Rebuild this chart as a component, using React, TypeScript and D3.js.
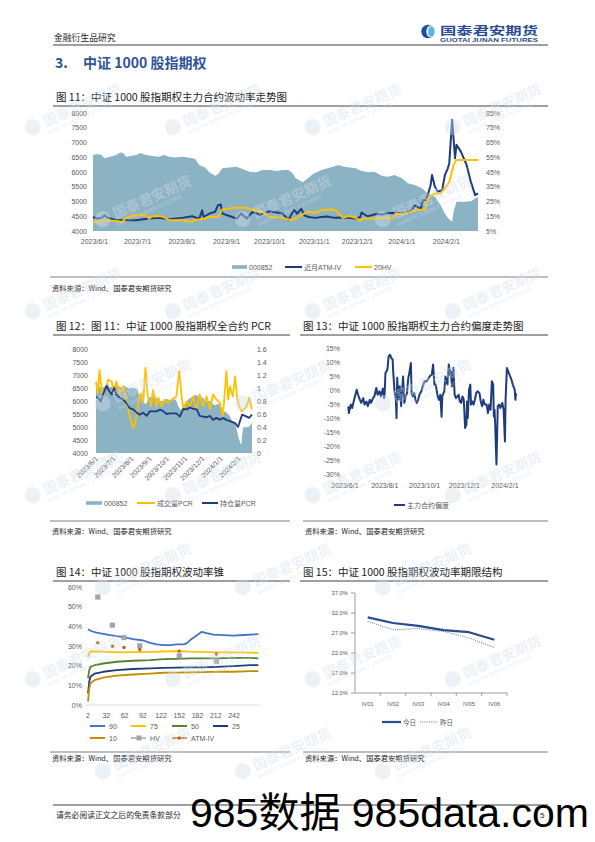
import React from "react";
import * as d3 from "d3";

// ================= DATA =================
// CSI 1000 index (000852)
const indexDates = ["2023-05-31","2023-06-03","2023-06-06","2023-06-08","2023-06-12","2023-06-16","2023-06-19","2023-06-21","2023-06-23","2023-06-28","2023-06-30","2023-07-03","2023-07-07","2023-07-11","2023-07-16","2023-07-19","2023-07-23","2023-07-27","2023-08-01","2023-08-05","2023-08-10","2023-08-13","2023-08-17","2023-08-20","2023-08-24","2023-08-26","2023-08-29","2023-09-03","2023-09-08","2023-09-12","2023-09-17","2023-09-22","2023-09-26","2023-10-01","2023-10-06","2023-10-10","2023-10-14","2023-10-17","2023-10-19","2023-10-24","2023-10-26","2023-10-31","2023-11-06","2023-11-14","2023-11-18","2023-11-22","2023-11-30","2023-12-04","2023-12-09","2023-12-13","2023-12-18","2023-12-22","2023-12-27","2024-01-01","2024-01-05","2024-01-10","2024-01-15","2024-01-19","2024-01-24","2024-01-28","2024-01-31","2024-02-02","2024-02-05","2024-02-06","2024-02-08","2024-02-14","2024-02-18","2024-02-23"];
const indexValues = [6580,6610,6580,6470,6520,6580,6660,6640,6520,6560,6580,6640,6580,6545,6520,6580,6520,6490,6520,6490,6445,6240,6150,5990,5875,5920,6125,6150,6180,6100,6010,5990,6070,6070,6030,6070,6070,5955,5800,5650,5730,5920,6070,6180,6240,6180,6125,6030,5990,6010,5875,5840,5900,5785,5615,5560,5445,5270,5160,4875,4590,4440,4310,4650,4990,4990,5010,5160];

// near-month ATM IV (%)
const ivDates = ["2023-05-31","2023-06-03","2023-06-06","2023-06-08","2023-06-10","2023-06-16","2023-06-26","2023-06-30","2023-07-09","2023-07-16","2023-07-23","2023-08-01","2023-08-08","2023-08-13","2023-08-15","2023-08-16","2023-08-20","2023-08-24","2023-08-26","2023-08-28","2023-08-29","2023-09-03","2023-09-08","2023-09-11","2023-09-15","2023-09-19","2023-09-24","2023-10-01","2023-10-10","2023-10-14","2023-10-18","2023-10-20","2023-10-23","2023-10-25","2023-10-28","2023-11-02","2023-11-06","2023-11-10","2023-11-15","2023-11-20","2023-11-25","2023-11-30","2023-12-03","2023-12-04","2023-12-08","2023-12-11","2023-12-14","2023-12-18","2023-12-22","2023-12-27","2024-01-03","2024-01-08","2024-01-10","2024-01-14","2024-01-16","2024-01-18","2024-01-21","2024-01-22","2024-01-24","2024-01-26","2024-01-29","2024-01-31","2024-02-02","2024-02-03","2024-02-05","2024-02-07","2024-02-08","2024-02-11","2024-02-15","2024-02-18","2024-02-21","2024-02-23"];
const ivValues = [14.5,13.4,13.9,15.7,14.2,12.3,12.3,12.3,13.4,13.9,13.0,13.9,15.0,13.4,19.0,14.5,16.8,18.0,22.5,23.0,16.8,15.2,13.4,16.8,13.4,18.0,16.0,18.4,16.8,12.5,19.5,16.8,20.0,15.7,14.5,13.9,14.5,14.8,13.9,14.2,13.9,13.4,14.5,17.5,15.0,15.7,16.5,16.2,17.0,17.3,16.8,19.0,22.5,19.8,26.0,26.0,36.0,43.0,35.0,31.6,32.7,43.0,47.5,51.0,80.5,54.3,63.4,59.0,50.0,38.4,29.3,30.5];

// 20-day HV (%)
const hvDates = ["2023-05-31","2023-06-05","2023-06-06","2023-06-16","2023-06-21","2023-06-22","2023-06-28","2023-07-07","2023-07-09","2023-07-11","2023-07-18","2023-07-23","2023-08-01","2023-08-08","2023-08-09","2023-08-17","2023-08-19","2023-08-26","2023-08-29","2023-09-07","2023-09-15","2023-09-19","2023-09-26","2023-10-01","2023-10-10","2023-10-16","2023-10-19","2023-10-27","2023-11-02","2023-11-06","2023-11-14","2023-11-16","2023-11-21","2023-11-25","2023-11-30","2023-12-03","2023-12-05","2023-12-13","2023-12-22","2023-12-26","2023-12-28","2024-01-02","2024-01-10","2024-01-17","2024-01-19","2024-01-24","2024-01-28","2024-01-31","2024-02-03","2024-02-06","2024-02-08","2024-02-14","2024-02-23"];
const hvValues = [11.1,10.8,12.3,11.8,11.1,13.4,15.7,15.7,13.4,15.0,15.0,12.3,12.3,11.1,12.3,13.4,14.5,14.5,19.5,20.7,20.7,19.2,18.0,14.5,13.9,12.3,13.4,18.0,17.3,19.0,19.5,19.0,14.0,15.2,14.0,11.8,13.4,13.4,13.9,13.4,16.8,16.4,19.0,19.5,27.0,30.5,30.5,33.9,38.4,49.8,53.2,53.2,53.2];

// volume PCR
const volPcrDates = ["2023-05-31","2023-06-03","2023-06-06","2023-06-11","2023-06-18","2023-06-21","2023-06-27","2023-07-01","2023-07-05","2023-07-11","2023-07-17","2023-07-22","2023-07-28","2023-08-03","2023-08-06","2023-08-10","2023-08-13","2023-08-17","2023-08-20","2023-08-24","2023-08-28","2023-09-03","2023-09-06","2023-09-12","2023-09-15","2023-09-21","2023-09-26","2023-10-02","2023-10-08","2023-10-16","2023-10-21","2023-10-25","2023-10-28","2023-11-03","2023-11-08","2023-11-14","2023-11-20","2023-11-25","2023-12-01","2023-12-07","2023-12-13","2023-12-18","2023-12-24","2023-12-30","2024-01-04","2024-01-10","2024-01-13","2024-01-16","2024-01-21","2024-01-25","2024-01-28","2024-02-01","2024-02-05","2024-02-09","2024-02-14","2024-02-18","2024-02-23"];
const volPcrValues = [1.10,0.92,1.28,0.87,1.03,1.13,1.10,0.92,1.10,0.92,1.03,0.82,0.56,0.38,0.44,0.67,0.85,0.92,0.77,1.31,0.87,0.72,0.97,0.72,0.85,0.72,0.82,0.77,0.82,0.87,1.26,0.87,0.67,0.79,0.72,0.87,0.67,0.90,0.72,0.87,0.67,0.90,0.82,0.77,0.56,1.26,0.82,1.03,0.87,1.18,0.87,0.72,0.64,0.67,0.72,0.85,0.67];

// open-interest PCR
const oiPcrDates = ["2023-05-31","2023-06-04","2023-06-08","2023-06-12","2023-06-18","2023-06-23","2023-06-27","2023-07-01","2023-07-05","2023-07-11","2023-07-17","2023-07-22","2023-07-28","2023-08-03","2023-08-09","2023-08-14","2023-08-20","2023-08-26","2023-08-31","2023-09-12","2023-09-18","2023-09-24","2023-09-29","2023-10-05","2023-10-16","2023-10-22","2023-10-28","2023-11-03","2023-11-08","2023-11-14","2023-11-20","2023-11-25","2023-12-01","2023-12-07","2023-12-13","2023-12-18","2023-12-24","2023-12-30","2024-01-04","2024-01-10","2024-01-16","2024-01-25","2024-01-30","2024-02-06","2024-02-14","2024-02-18","2024-02-23"];
const oiPcrValues = [0.86,0.85,0.79,0.90,1.03,0.95,0.90,1.00,0.90,0.85,0.82,0.77,0.69,0.67,0.62,0.59,0.62,0.57,0.64,0.64,0.67,0.64,0.60,0.61,0.61,0.56,0.68,0.67,0.70,0.68,0.67,0.57,0.56,0.55,0.57,0.51,0.54,0.51,0.54,0.51,0.49,0.46,0.40,0.59,0.56,0.54,0.59];

// main contract skew (%)
const skewDates = ["2023-06-06","2023-06-07","2023-06-10","2023-06-12","2023-06-15","2023-06-17","2023-06-19","2023-06-21","2023-06-24","2023-06-26","2023-06-29","2023-07-01","2023-07-04","2023-07-06","2023-07-09","2023-07-11","2023-07-14","2023-07-16","2023-07-19","2023-07-21","2023-07-24","2023-07-26","2023-07-29","2023-07-31","2023-08-01","2023-08-02","2023-08-05","2023-08-07","2023-08-09","2023-08-11","2023-08-13","2023-08-14","2023-08-16","2023-08-18","2023-08-19","2023-08-20","2023-08-22","2023-08-24","2023-08-26","2023-08-29","2023-08-31","2023-09-02","2023-09-04","2023-09-06","2023-09-08","2023-09-10","2023-09-11","2023-09-13","2023-09-15","2023-09-17","2023-09-19","2023-09-21","2023-09-24","2023-09-26","2023-09-29","2023-10-01","2023-10-04","2023-10-06","2023-10-09","2023-10-12","2023-10-14","2023-10-16","2023-10-18","2023-10-21","2023-10-23","2023-10-25","2023-10-27","2023-10-28","2023-10-31","2023-11-02","2023-11-05","2023-11-07","2023-11-09","2023-11-10","2023-11-12","2023-11-14","2023-11-16","2023-11-18","2023-11-20","2023-11-22","2023-11-24","2023-11-26","2023-11-28","2023-11-30","2023-12-02","2023-12-04","2023-12-05","2023-12-06","2023-12-08","2023-12-10","2023-12-11","2023-12-13","2023-12-15","2023-12-17","2023-12-19","2023-12-21","2023-12-24","2023-12-26","2023-12-28","2023-12-30","2024-01-01","2024-01-04","2024-01-06","2024-01-08","2024-01-10","2024-01-12","2024-01-14","2024-01-15","2024-01-16","2024-01-17","2024-01-19","2024-01-20","2024-01-21","2024-01-23","2024-01-25","2024-01-26","2024-01-28","2024-01-30","2024-02-01","2024-02-02","2024-02-04","2024-02-06","2024-02-08","2024-02-11","2024-02-13","2024-02-16","2024-02-17","2024-02-18"];
const skewValues = [-5.7,-8.1,-5.1,-6.3,-3.4,-1.6,0.2,-1.6,-3.4,-4.5,-2.8,-5.1,-4.0,-5.7,-3.4,-4.5,-2.8,-2.2,0.8,-1.6,-0.4,-2.2,0.6,-2.8,-0.2,6.1,7.3,12.1,12.6,11.5,10.9,6.1,-0.4,-3.4,-9.9,4.4,-3.3,1.4,-5.7,4.9,-4.5,-2.2,-1.0,4.4,6.7,9.7,-1.0,-2.2,-1.0,-3.4,-4.5,-3.4,-1.0,-0.4,2.0,3.2,3.2,3.8,5.0,5.5,9.1,2.0,2.0,-2.2,-3.4,-1.6,-9.4,-2.2,-0.4,4.9,2.0,9.1,5.5,6.7,1.4,7.9,-1.6,-2.8,-2.2,-1.6,-4.0,-4.5,-2.2,-3.4,-13.4,-12.2,-4.0,-9.9,0.2,2.0,-5.1,-4.0,-5.1,-3.4,-1.0,-0.4,-1.0,-4.0,-5.7,-3.4,-5.1,-5.1,-8.1,-5.1,-6.9,3.2,2.0,-9.3,-6.9,-11.6,-26.4,-16.4,-5.7,-5.1,-6.3,-5.7,-4.5,-6.9,-18.2,-3.4,7.9,6.7,5.5,3.8,2.0,0.2,-3.4,-1.0];

// volatility cone (days to expiry vs %)
const p90Days = [2,8,16,27,38,49,60,76,93,104,115,126,137,148,159,164,170,181,189,197,208,225,241,258,269,282];
const p90Values = [38.5,37.5,36.8,36.2,35.5,35.0,34.5,33.5,32.8,31.6,30.8,30.4,30.4,30.8,30.8,31.3,33.0,35.5,37.2,36.5,35.8,35.5,35.3,35.6,35.8,36.0];
const coneDays = [2,4,6,13,27,49,76,104,126,148,170,189,214,241,269,282];
const p75Values = [24.5,26.5,27.2,27.2,27.1,26.8,26.9,27.0,27.2,27.4,27.1,27.0,26.8,26.8,26.6,26.5];
const p50Values = [13.5,17.7,19.4,20.3,21.1,22.0,22.5,22.8,23.3,23.5,23.7,23.7,23.7,24.0,24.0,23.7];
const p25Values = [5.9,11.8,14.4,16.0,16.9,17.7,18.3,18.6,18.9,19.0,19.1,19.1,19.4,19.8,20.3,20.3];
const p10Values = [1.7,8.4,11.0,12.7,13.9,14.9,15.5,16.0,16.4,16.5,16.6,16.7,16.9,16.9,17.2,17.2];
const expiryDays = [18,42,61,87,152,213];
const hvConePoints = [54.9,40.6,34.3,30.1,25.0,22.3];
const atmConePoints = [31.6,29.9,29.2,28.2,27.4,25.9];
const coneTicks = [2,32,62,92,122,152,182,212,242];

// term structure
const termCats = ["IV01","IV02","IV03","IV04","IV05","IV06"];
const termToday = [30.9,29.5,28.8,27.7,27.2,25.3];
const termYesterday = [29.9,27.8,28.1,27.4,25.75,23.4];
const termTicks = [12,17,22,27,32,37];

// axis tick lists
const monthTicks = ["2023-06-01","2023-07-01","2023-08-01","2023-09-01","2023-10-01","2023-11-01","2023-12-01","2024-01-01","2024-02-01"];
const skewTicks = ["2023-06-01","2023-08-01","2023-10-01","2023-12-01","2024-02-01"];
const dateStart = "2023-05-31";
const dateEnd = "2024-02-23";

// ================= HELPERS =================
type Pt = { date: Date; value: number };
const parse = d3.timeParse("%Y-%m-%d");
const pd = (s: string) => parse(s) as Date;
const toPts = (dates: string[], values: number[]): Pt[] =>
  dates.map((d, i) => ({ date: pd(d), value: values[i] }));
const fmtDate = d3.timeFormat("%Y/%-m/%-d");

const SANS = "'Liberation Sans', Arial, 'Noto Sans CJK SC', sans-serif";
const CJK = "'Noto Sans CJK SC', 'Noto Sans', sans-serif";
const NAVY = "#1F3C7A";
const GOLD = "#FFC000";
const AREA = "#8CB3C4";
const TXT = "#595959";
const RULE = "#404040";

const idxPts = toPts(indexDates, indexValues);

function Title({ x, y, text, x2 }: { x: number; y: number; text: string; x2: number }) {
  return (
    <g>
      <text x={x + 3} y={y} fontFamily={CJK} fontSize={10.5} fill="#1a1a1a">{text}</text>
      <line x1={x} x2={x2} y1={y + 5} y2={y + 5} stroke={RULE} strokeWidth={1} />
    </g>
  );
}

function Source({ x, y, x2, lineY }: { x: number; y: number; x2: number; lineY: number }) {
  return (
    <g>
      <line x1={x - 2} x2={x2} y1={lineY} y2={lineY} stroke="#7F7F7F" strokeWidth={1} />
      <text x={x} y={y} fontFamily={CJK} fontSize={7.3} fill="#1a1a1a">资料来源：Wind、国泰君安期货研究</text>
    </g>
  );
}

// ================= FIG 11 =================
function Fig11() {
  const x = d3.scaleTime().domain([pd(dateStart), pd(dateEnd)]).range([93, 478]);
  const yL = d3.scaleLinear().domain([4000, 8000]).range([231, 113]);
  const yR = d3.scaleLinear().domain([5, 85]).range([231, 113]);
  const area = d3.area<Pt>().x(d => x(d.date)).y0(yL(4000)).y1(d => yL(d.value));
  const lineR = d3.line<Pt>().x(d => x(d.date)).y(d => yR(d.value));
  return (
    <g>
      <Title x={53} y={101} x2={548} text="图 11：中证 1000 股指期权主力合约波动率走势图" />
      <path d={area(idxPts) || ""} fill={AREA} />
      <path d={lineR(toPts(ivDates, ivValues)) || ""} fill="none" stroke={NAVY} strokeWidth={2} strokeLinejoin="round" />
      <path d={lineR(toPts(hvDates, hvValues)) || ""} fill="none" stroke={GOLD} strokeWidth={2} strokeLinejoin="round" />
      {d3.range(4000, 8001, 500).map(v => (
        <text key={v} x={87} y={yL(v) + 2.5} textAnchor="end" fontFamily={SANS} fontSize={7} fill={TXT}>{v}</text>
      ))}
      {d3.range(5, 86, 10).map(v => (
        <text key={v} x={486} y={yR(v) + 2.5} fontFamily={SANS} fontSize={7} fill={TXT}>{v}%</text>
      ))}
      {monthTicks.map(t => (
        <text key={t} x={x(pd(t))} y={244} textAnchor="middle" fontFamily={SANS} fontSize={7} fill={TXT}>{fmtDate(pd(t))}</text>
      ))}
      {/* legend */}
      <rect x={232} y={265.2} width={15} height={3.6} fill={AREA} />
      <text x={249} y={269.5} fontFamily={SANS} fontSize={7} fill={TXT}>000852</text>
      <line x1={285} x2={302} y1={267} y2={267} stroke={NAVY} strokeWidth={2} />
      <text x={304} y={269.5} fontFamily={SANS} fontSize={7} fill={TXT}>近月ATM-IV</text>
      <line x1={355} x2={372} y1={267} y2={267} stroke={GOLD} strokeWidth={2} />
      <text x={374} y={269.5} fontFamily={SANS} fontSize={7} fill={TXT}>20HV</text>
      <Source x={52} y={291} x2={548} lineY={277} />
    </g>
  );
}

// ================= FIG 12 =================
function Fig12() {
  const x = d3.scaleTime().domain([pd(dateStart), pd(dateEnd)]).range([96, 252]);
  const yL = d3.scaleLinear().domain([4000, 8000]).range([453, 349]);
  const yR = d3.scaleLinear().domain([0, 1.6]).range([453, 349]);
  const area = d3.area<Pt>().x(d => x(d.date)).y0(yL(4000)).y1(d => yL(d.value));
  const lineR = d3.line<Pt>().x(d => x(d.date)).y(d => yR(d.value));
  return (
    <g>
      <Title x={53} y={330} x2={290} text="图 12：图 11：中证 1000 股指期权全合约 PCR" />
      <path d={area(idxPts) || ""} fill={AREA} />
      <path d={lineR(toPts(volPcrDates, volPcrValues)) || ""} fill="none" stroke={GOLD} strokeWidth={1.8} strokeLinejoin="round" />
      <path d={lineR(toPts(oiPcrDates, oiPcrValues)) || ""} fill="none" stroke={NAVY} strokeWidth={1.8} strokeLinejoin="round" />
      {d3.range(4000, 8001, 500).map(v => (
        <text key={v} x={88} y={yL(v) + 2.5} textAnchor="end" fontFamily={SANS} fontSize={7} fill={TXT}>{v}</text>
      ))}
      {d3.range(0, 1.61, 0.2).map(v => (
        <text key={v} x={257} y={yR(v) + 2.5} fontFamily={SANS} fontSize={7} fill={TXT}>{v === 0 ? "0" : d3.format(".1f")(v).replace(/\.0$/, "")}</text>
      ))}
      {monthTicks.map(t => (
        <text key={t} transform={`translate(${x(pd(t)) + 2},${459}) rotate(-45)`} textAnchor="end" fontFamily={SANS} fontSize={7} fill={TXT}>{fmtDate(pd(t))}</text>
      ))}
      <rect x={86} y={501.2} width={16} height={3.6} fill={AREA} />
      <text x={104} y={505.5} fontFamily={SANS} fontSize={7} fill={TXT}>000852</text>
      <line x1={137} x2={155} y1={503} y2={503} stroke={GOLD} strokeWidth={2} />
      <text x={157} y={505.5} fontFamily={SANS} fontSize={7} fill={TXT}>成交量PCR</text>
      <line x1={202} x2={218} y1={503} y2={503} stroke={NAVY} strokeWidth={2} />
      <text x={220} y={505.5} fontFamily={SANS} fontSize={7} fill={TXT}>持仓量PCR</text>
      <Source x={52} y={534} x2={290} lineY={521} />
    </g>
  );
}

// ================= FIG 13 =================
function Fig13() {
  const x = d3.scaleTime().domain([pd(dateStart), pd(dateEnd)]).range([344.3, 519.3]);
  const y = d3.scaleLinear().domain([-30, 15]).range([474.7, 348]);
  const line = d3.line<Pt>().x(d => x(d.date)).y(d => y(d.value));
  return (
    <g>
      <Title x={300} y={330} x2={548} text="图 13：中证 1000 股指期权主力合约偏度走势图" />
      <path d={line(toPts(skewDates, skewValues)) || ""} fill="none" stroke={NAVY} strokeWidth={2} strokeLinejoin="round" />
      {d3.range(-30, 16, 5).map(v => (
        <text key={v} x={340} y={y(v) + 2.5} textAnchor="end" fontFamily={SANS} fontSize={7} fill={TXT}>{v}%</text>
      ))}
      {skewTicks.map(t => (
        <text key={t} x={x(pd(t))} y={488} textAnchor="middle" fontFamily={SANS} fontSize={7} fill={TXT}>{fmtDate(pd(t))}</text>
      ))}
      <line x1={394} x2={405} y1={505} y2={505} stroke={NAVY} strokeWidth={2} />
      <text x={407} y={507.5} fontFamily={SANS} fontSize={7} fill={TXT}>主力合约偏度</text>
      <Source x={305} y={534} x2={548} lineY={521} />
    </g>
  );
}

// ================= FIG 14 =================
function Fig14() {
  const x = d3.scaleLinear().domain([-1, 286]).range([86.2, 260.8]);
  const y = d3.scaleLinear().domain([0, 60]).range([705, 587]);
  const mk = (days: number[], vals: number[]) =>
    d3.line<number>().x((_, i) => x(days[i])).y(v => y(v))(vals) || "";
  const series = [
    { name: "90", days: p90Days, vals: p90Values, color: "#4472C4" },
    { name: "75", days: coneDays, vals: p75Values, color: GOLD },
    { name: "50", days: coneDays, vals: p50Values, color: "#548235" },
    { name: "25", days: coneDays, vals: p25Values, color: NAVY },
    { name: "10", days: coneDays, vals: p10Values, color: "#BF8F00" },
  ];
  const legPos = [
    { lx: 90, ty: 726 }, { lx: 131, ty: 726 }, { lx: 172, ty: 726 }, { lx: 213, ty: 726 }, { lx: 90, ty: 738 },
  ];
  return (
    <g>
      <Title x={53} y={576} x2={290} text="图 14：中证 1000 股指期权波动率锥" />
      <line x1={86} x2={261} y1={705} y2={705} stroke="#D9D9D9" strokeWidth={0.8} />
      {series.map(s => (
        <path key={s.name} d={mk(s.days, s.vals)} fill="none" stroke={s.color} strokeWidth={1.8} strokeLinejoin="round" />
      ))}
      {expiryDays.map((d, i) => (
        <rect key={"hv" + i} x={x(d) - 2.6} y={y(hvConePoints[i]) - 2.6} width={5.2} height={5.2} fill="#A5A5A5" />
      ))}
      {expiryDays.map((d, i) => (
        <circle key={"atm" + i} cx={x(d)} cy={y(atmConePoints[i])} r={1.7} fill="#C55A11" />
      ))}
      {d3.range(0, 61, 10).map(v => (
        <text key={v} x={82} y={y(v) + 2.5} textAnchor="end" fontFamily={SANS} fontSize={7} fill={TXT}>{v}%</text>
      ))}
      {coneTicks.map(t => (
        <text key={t} x={x(t)} y={717.5} textAnchor="middle" fontFamily={SANS} fontSize={7} fill={TXT}>{t}</text>
      ))}
      {series.map((s, i) => (
        <g key={"lg" + s.name}>
          <line x1={legPos[i].lx} x2={legPos[i].lx + 15} y1={legPos[i].ty} y2={legPos[i].ty} stroke={s.color} strokeWidth={2} />
          <text x={legPos[i].lx + 19} y={legPos[i].ty + 2.5} fontFamily={SANS} fontSize={7} fill={TXT}>{s.name}</text>
        </g>
      ))}
      <line x1={131} x2={146} y1={738} y2={738} stroke="#A5A5A5" strokeWidth={1.5} />
      <rect x={136.5} y={735.5} width={5} height={5} fill="#A5A5A5" />
      <text x={150} y={740.5} fontFamily={SANS} fontSize={7} fill={TXT}>HV</text>
      <line x1={172} x2={187} y1={738} y2={738} stroke="#C55A11" strokeWidth={1.5} />
      <circle cx={179.5} cy={738} r={1.8} fill="#C55A11" />
      <text x={191} y={740.5} fontFamily={SANS} fontSize={7} fill={TXT}>ATM-IV</text>
      <Source x={52} y={761} x2={290} lineY={752} />
    </g>
  );
}

// ================= FIG 15 =================
function Fig15() {
  const x = d3.scaleBand().domain(termCats).range([355, 507]);
  const y = d3.scaleLinear().domain([12, 37]).range([693, 593]);
  const line = d3.line<number>().x((_, i) => (x(termCats[i]) || 0) + x.bandwidth() / 2).y(v => y(v));
  return (
    <g>
      <Title x={300} y={576} x2={548} text="图 15：中证 1000 股指期权波动率期限结构" />
      <line x1={355} x2={355} y1={593} y2={693} stroke="#868686" strokeWidth={0.8} />
      <line x1={355} x2={507} y1={693} y2={693} stroke="#868686" strokeWidth={0.8} />
      {termTicks.map(t => (
        <g key={t}>
          <line x1={351} x2={355} y1={y(t)} y2={y(t)} stroke="#868686" strokeWidth={0.8} />
          <text x={348} y={y(t) + 2} textAnchor="end" fontFamily={SANS} fontSize={5.8} fill={TXT}>{t.toFixed(1)}%</text>
        </g>
      ))}
      {termCats.map((c) => (
        <g key={c}>
          <line x1={(x(c) || 0) + x.bandwidth()} x2={(x(c) || 0) + x.bandwidth()} y1={693} y2={696} stroke="#868686" strokeWidth={0.8} />
          <text x={(x(c) || 0) + x.bandwidth() / 2} y={705.5} textAnchor="middle" fontFamily={SANS} fontSize={5.8} fill={TXT}>{c}</text>
        </g>
      ))}
      <path d={line(termYesterday) || ""} fill="none" stroke="#2F5597" strokeWidth={0.8} strokeDasharray="1 1.2" />
      <path d={line(termToday) || ""} fill="none" stroke="#2B4C8C" strokeWidth={2.2} strokeLinejoin="round" />
      <line x1={382} x2={401} y1={722} y2={722} stroke="#2B4C8C" strokeWidth={2.2} />
      <text x={403} y={724.5} fontFamily={CJK} fontSize={6.5} fill={TXT}>今日</text>
      <line x1={420} x2={438} y1={722} y2={722} stroke="#2F5597" strokeWidth={0.8} strokeDasharray="1 1.2" />
      <text x={440} y={724.5} fontFamily={CJK} fontSize={6.5} fill={TXT}>昨日</text>
      <Source x={305} y={761} x2={548} lineY={752} />
    </g>
  );
}

// ================= PAGE DECOR =================
function Header() {
  return (
    <g>
      <text x={54} y={41} fontFamily={CJK} fontSize={8.8} fill="#262626">金融衍生品研究</text>
      <circle cx={428} cy={31.5} r={6.8} fill="#1F4E9A" />
      <ellipse cx={430.6} cy={31.5} rx={4.2} ry={6.1} fill="#fff" />
      <ellipse cx={431.2} cy={31.5} rx={3.2} ry={5.3} fill="#55B6E9" />
      <text x={440} y={35} fontFamily={CJK} fontWeight={700} fontSize={11} fill="#2A4B93" textLength={98} lengthAdjust="spacingAndGlyphs">国泰君安期货</text>
      <text x={440} y={41.8} fontFamily={SANS} fontWeight={700} fontSize={4.8} fill="#2A4B93" textLength={98} lengthAdjust="spacingAndGlyphs">GUOTAI JUNAN FUTURES</text>
      <line x1={53} x2={548} y1={45} y2={45} stroke="#7F7F7F" strokeWidth={1.3} />
      <text x={55} y={68} fontFamily={CJK} fontWeight={700} fontSize={14} fill="#2F5496">3.</text>
      <text x={83} y={68} fontFamily={CJK} fontWeight={700} fontSize={14} fill="#2F5496">中证 1000 股指期权</text>
    </g>
  );
}

function Watermarks() {
  const marks: { x: number; y: number }[] = [];
  for (let r = 0; r < 8; r++) {
    for (let c = 0; c < 4; c++) {
      const x = 45 + (r % 2) * 70 + c * 140;
      if (x <= 470) marks.push({ x, y: 125 + r * 92 });
    }
  }
  return (
    <g opacity={0.42} pointerEvents="none">
      {marks.map((m, i) => (
        <g key={i} transform={`translate(${m.x},${m.y}) rotate(-24)`}>
          <circle cx={-12} cy={-3} r={8} fill="#D2DDEA" />
          <text x={0} y={2} fontFamily={CJK} fontWeight={700} fontSize={14} fill="#D2DDEA">国泰君安期货</text>
          <text x={0} y={10} fontFamily={SANS} fontWeight={700} fontSize={5.5} fill="#D2DDEA">GUOTAI JUNAN FUTURES</text>
        </g>
      ))}
    </g>
  );
}

function Footer() {
  return (
    <g>
      <line x1={53} x2={548} y1={805} y2={805} stroke="#7F7F7F" strokeWidth={1.3} />
      <text x={56} y={818} fontFamily={CJK} fontSize={7.8} fill="#262626">请务必阅读正文之后的免责条款部分</text>
      <text x={540} y={818} fontFamily={SANS} fontSize={8} fill="#262626">5</text>
      <text x={190} y={827} fontFamily={SANS} fontSize={41} fill="#000">985数据 985data.com</text>
    </g>
  );
}

export default function App() {
  return (
    <svg width={595} height={842} viewBox="0 0 595 842"
      style={{ position: "absolute", left: 0, top: 0, display: "block", background: "#fff" }}>
      <rect x={0} y={0} width={595} height={842} fill="#fff" />
      <Header />
      <Fig11 />
      <Fig12 />
      <Fig13 />
      <Fig14 />
      <Fig15 />
      <Watermarks />
      <Footer />
    </svg>
  );
}
